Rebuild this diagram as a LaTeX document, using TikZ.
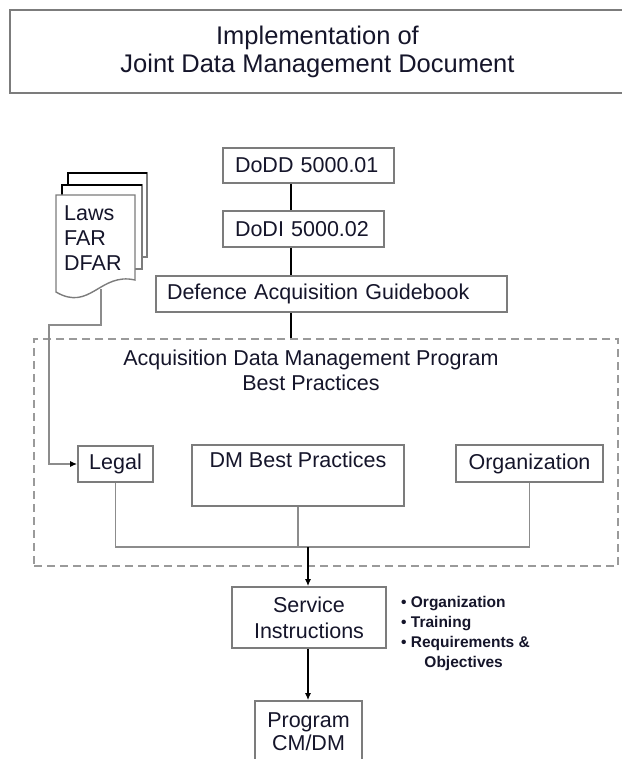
\documentclass[tikz,border=0pt]{standalone}
\usepackage{fontspec}
\setmainfont{Liberation Sans}
\usetikzlibrary{arrows.meta,calc}
\definecolor{ink}{HTML}{15152A}
\definecolor{frame}{HTML}{7C7C7C}
\definecolor{wiregray}{HTML}{8C8C8C}
\definecolor{dashgray}{HTML}{9A9A9A}
\begin{document}
\begin{tikzpicture}[x=1pt,y=-1pt,
  every node/.style={text=ink, font=\fontsize{21.5}{25}\selectfont},
  box/.style={draw=frame, line width=1.6pt, fill=white, inner sep=0pt, align=center},
  wire/.style={draw=wiregray, line width=1.7pt},
  spineline/.style={draw=black, line width=1.4pt},
  tip/.style={-{Latex[length=7pt,width=6pt,color=black]}}
]
\useasboundingbox (0,0) rectangle (621,759);

% heading
\node[box, minimum width=615pt, minimum height=83pt,
      font=\fontsize{25.5}{28}\selectfont] (title) at (317.5,51.5)
      {Implementation of\\Joint Data Management Document};

% directive chain
\node[box, minimum width=171pt, minimum height=35pt, text width=147pt, align=left]
      (dodd) at (308.5,165.5) {DoDD 5000.01};
\node[box, minimum width=161pt, minimum height=36pt, text width=137pt, align=left]
      (dodi) at (303.5,229) {DoDI 5000.02};
\node[box, minimum width=351pt, minimum height=36pt, text width=329pt, align=left]
      (guide) at (331.5,294) {Defence Acquisition Guidebook};

% stacked document pages
\draw[fill=white, draw=frame, line width=1.4pt] (68,173) rectangle (147,257);
\draw[black, line width=1.4pt] (68,185) -- (68,173) -- (147,173);
\draw[fill=white, draw=frame, line width=1.4pt] (62,185) rectangle (142,269);
\draw[black, line width=1.4pt] (62,195) -- (62,185) -- (142,185);
\draw[fill=white, draw=frame, line width=1.4pt]
  (56,292) -- (56,195) -- (135,195) -- (135,280)
  .. controls (100,272) and (90,312) .. (56,292) -- cycle;
\node[anchor=west, align=left, inner sep=0pt] (laws) at (64,238) {Laws\\FAR\\DFAR};
\coordinate (docfoot) at (101,289);
\coordinate (knee) at (49,325);

% best practices group
\node[draw=dashgray, line width=1.6pt, dash pattern=on 8pt off 5pt,
      minimum width=584pt, minimum height=227pt, inner sep=0pt] (acq) at (326,452.5) {};
\node[align=center, inner sep=0pt] (acqtitle) at (311,370)
      {Acquisition Data Management Program\\Best Practices};
\node[box, minimum width=75pt, minimum height=36pt] (legal) at (115.5,464) {Legal};
\node[box, minimum width=212pt, minimum height=61pt] (dmbp) at (298,475.5)
      {DM Best Practices\\\strut};
\node[box, minimum width=147pt, minimum height=37pt] (org) at (529.5,463.5) {Organization};

% outputs
\node[box, minimum width=154pt, minimum height=61pt, font=\fontsize{21.5}{26}\selectfont]
      (service) at (309,617.5) {Service\\Instructions};
\node[box, minimum width=107pt, minimum height=61pt, font=\fontsize{21.5}{23}\selectfont]
      (program) at (308.5,731.5) {Program\\CM/DM};
\node[anchor=north west, align=left, inner sep=0pt, font=\fontsize{15.5}{20}\selectfont\bfseries]
      (notes) at (401,596)
      {\textbullet\ Organization\\\textbullet\ Training\\\textbullet\ Requirements \&\\\hspace{1.5em}Objectives};

% connectors
\coordinate (spine) at (291,0);
\draw[spineline] (dodd.south -| spine) -- (dodi.north -| spine);
\draw[spineline] (dodi.south -| spine) -- (guide.north -| spine);
\draw[spineline] (guide.south -| spine) -- (acq.north -| spine);

\draw[wire, tip] (docfoot) |- (knee) |- (legal.west);

\coordinate (bus) at (308,547);
\draw[wire] (legal.south) |- (bus) -| (org.south);
\draw[wire] (dmbp.south) -- (dmbp.south |- bus);
\draw[spineline, tip] (bus) -- (bus |- service.north);
\draw[spineline, tip] (service.south -| bus) -- (program.north -| bus);
\end{tikzpicture}
\end{document}
